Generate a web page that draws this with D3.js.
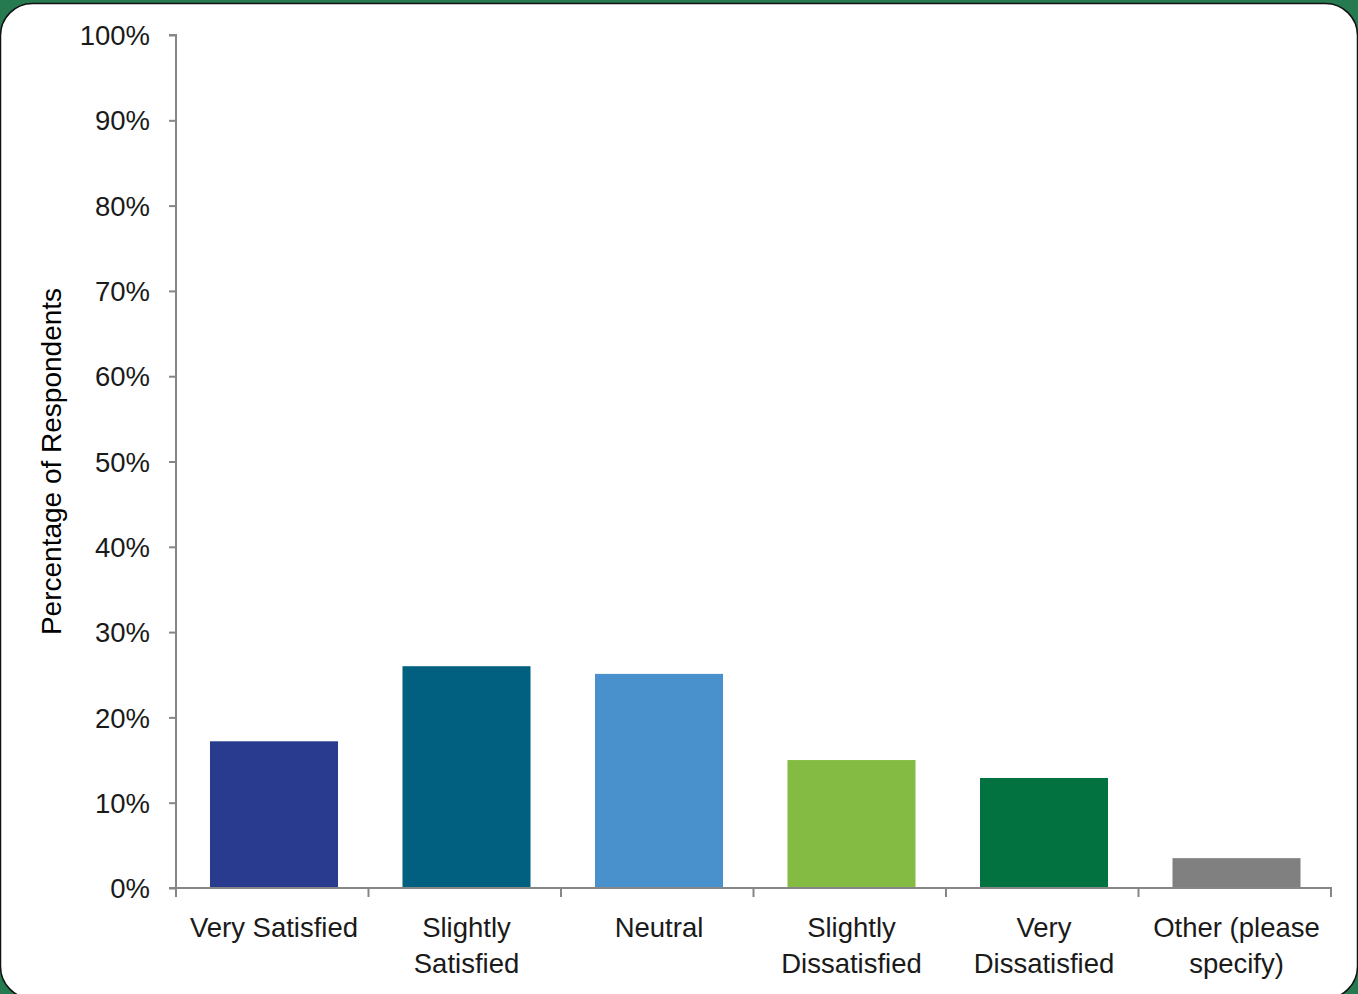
<!DOCTYPE html>
<html><head><meta charset="utf-8">
<script src="https://cdn.jsdelivr.net/npm/d3@7"></script>
<style>html,body{margin:0;padding:0;background:#257a50;overflow:hidden}</style>
</head><body>
<svg id="chart" width="1358" height="994"></svg>
<script>
const categories = [["Very Satisfied"], ["Slightly", "Satisfied"], ["Neutral"], ["Slightly", "Dissatisfied"], ["Very", "Dissatisfied"], ["Other (please", "specify)"]];
const values = [17.2, 26.0, 25.1, 15.0, 12.9, 3.5];
const colors = ["#283b8f", "#01607f", "#4891cc", "#84bb42", "#027340", "#808080"];
const yTicks = [0, 10, 20, 30, 40, 50, 60, 70, 80, 90, 100];
const yTitle = "Percentage of Respondents";

(function () {
const svg = d3.select("#chart");
const font = "'Liberation Sans', Arial, sans-serif";
svg.append("rect").attr("x", 0).attr("y", 0).attr("width", 1358).attr("height", 994).attr("fill", "#257a50");
svg.append("rect").attr("x", 0.5).attr("y", 3.5).attr("width", 1357).attr("height", 995)
  .attr("rx", 32).attr("fill", "#fff").attr("stroke", "#111").attr("stroke-width", 1.5);

const pl = 176, pr = 1331, pt = 35, pb = 888;
const keys = categories.map((c, i) => i);
const x = d3.scaleBand().domain(keys).range([pl + 1.75, pr + 1.75]).paddingInner(0.335).paddingOuter(0.1675);
const y = d3.scaleLinear().domain([0, 100]).range([pb, pt]);

const axisColor = "#868686";
svg.append("g").selectAll("rect").data(values).join("rect")
  .attr("x", (d, i) => x(i)).attr("width", x.bandwidth())
  .attr("y", d => y(d)).attr("height", d => y(0) - y(d))
  .attr("fill", (d, i) => colors[i]);

const yAxis = svg.append("g").attr("transform", `translate(${pl},0)`)
  .call(d3.axisLeft(y).tickValues(yTicks).tickFormat(d => d + "%").tickSize(7).tickPadding(19));
yAxis.select(".domain").attr("stroke", axisColor).attr("stroke-width", 2).attr("d", `M-7,${pt}H0V${pb}`);
yAxis.selectAll(".tick line").attr("stroke", axisColor).attr("stroke-width", 2);
yAxis.selectAll("text").attr("font-family", font).attr("font-size", 27.5).attr("fill", "#1a1a1a").attr("dy", "0.35em");

const xa = svg.append("g");
xa.append("line").attr("x1", pl - 7).attr("x2", pr + 1).attr("y1", pb).attr("y2", pb)
  .attr("stroke", axisColor).attr("stroke-width", 2);
const step = (pr - pl) / keys.length;
const bounds = d3.range(keys.length + 1).map(i => pl + i * step);
xa.selectAll(".xt").data(bounds).join("line").attr("class", "xt")
  .attr("x1", d => d).attr("x2", d => d).attr("y1", pb).attr("y2", pb + 9)
  .attr("stroke", axisColor).attr("stroke-width", 2);
const lbl = xa.selectAll(".xl").data(categories).join("text").attr("class", "xl")
  .attr("x", (d, i) => x(i) + x.bandwidth() / 2).attr("y", 937)
  .attr("text-anchor", "middle").attr("font-family", font).attr("font-size", 27.5).attr("fill", "#1a1a1a");
lbl.selectAll("tspan").data(d => d).join("tspan")
  .attr("x", function () { return this.parentNode.getAttribute("x"); })
  .attr("dy", (d, i) => i === 0 ? 0 : 36).text(d => d);

svg.append("text").attr("transform", `translate(61,${(pt + pb) / 2}) rotate(-90)`)
  .attr("text-anchor", "middle").attr("font-family", font).attr("font-size", 28).attr("fill", "#000")
  .text(yTitle);
})();
</script>
</body></html>
